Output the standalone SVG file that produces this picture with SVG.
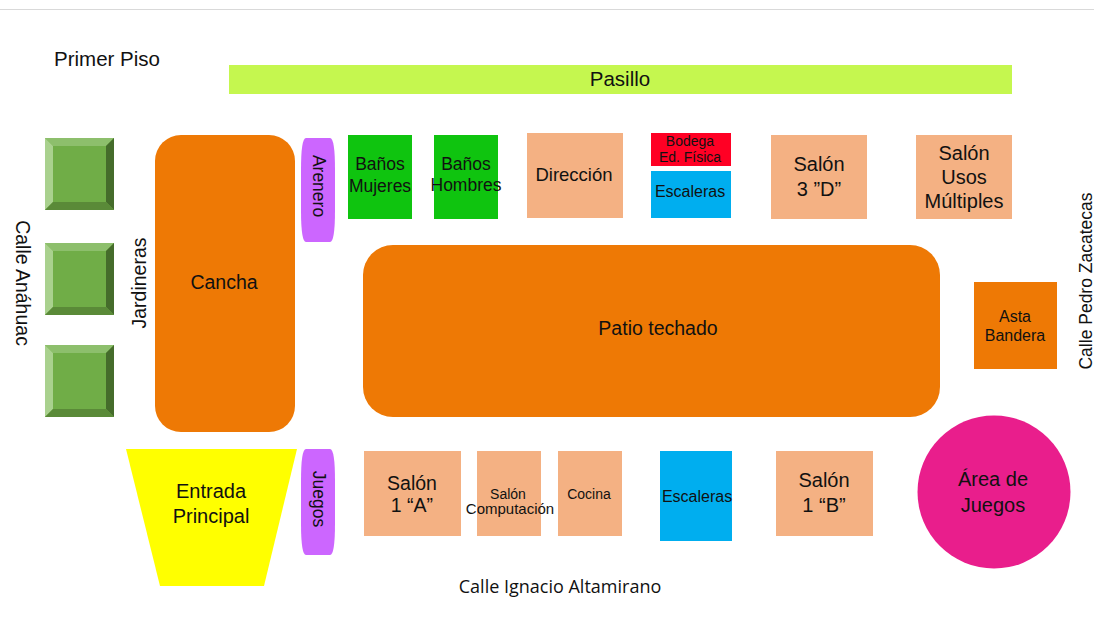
<svg xmlns="http://www.w3.org/2000/svg" width="1094" height="623" viewBox="0 0 1094 623">
<style>
text{font-family:"Liberation Sans",Arial,sans-serif;fill:#111;text-anchor:middle}
.c{font-family:"Open Sans","Liberation Sans",sans-serif}
.o{fill:#ee7905}.s{fill:#f4b183}.g{fill:#0fc40f}.b{fill:#00aeef}.p{fill:#cc66ff}
.t20{font-size:20px}.t205{font-size:20.500px}.t195{font-size:19.500px}.t185{font-size:18.500px}.t18{font-size:18px}.t175{font-size:17.500px}.t16{font-size:16px}.t15{font-size:15px}.t14{font-size:14px}
</style>
<defs>
<g id="planter">
<rect width="69" height="72" fill="#70ad47"/>
<polygon points="0,0 69,0 61,8 8,8" fill="#8dbf6c"/>
<polygon points="0,0 8,8 8,64 0,72" fill="#a9d18e"/>
<polygon points="69,0 69,72 61,64 61,8" fill="#456c2b"/>
<polygon points="0,72 8,64 61,64 69,72" fill="#5a8a38"/>
</g>
</defs>
<rect width="1094" height="623" fill="#fff"/>
<rect x="0" y="9" width="1094" height="1" fill="#d9d9d9"/>
<text x="107" y="66" class="t205">Primer Piso</text>
<g id="pasillo"><rect x="229" y="65" width="783" height="29" fill="#c5f74f"/><text x="620" y="86" class="t205">Pasillo</text></g>
<g id="jardinera1"><use href="#planter" x="45" y="138"/></g>
<g id="jardinera2"><use href="#planter" x="45" y="243"/></g>
<g id="jardinera3"><use href="#planter" x="45" y="345"/></g>
<text transform="translate(16,283) rotate(90)" class="t195">Calle Anáhuac</text>
<text transform="translate(146,283) rotate(-90)" class="t195">Jardineras</text>
<g id="cancha"><rect x="155" y="135" width="140" height="297" rx="26" class="o"/><text x="224" y="289" class="t195">Cancha</text></g>
<g id="arenero"><path d="M306 138H330Q335 138 335 170V210Q335 242 330 242H306Q301 242 301 210V170Q301 138 306 138Z" class="p"/><text transform="translate(313,186) rotate(90)" class="t175">Arenero</text></g>
<g id="banos-mujeres"><rect x="348" y="135" width="64" height="84" class="g"/><text x="380" y="170" class="t175">Baños</text><text x="380" y="192" class="t175">Mujeres</text></g>
<g id="banos-hombres"><rect x="434" y="135" width="64" height="84" class="g"/><text x="466" y="170" class="t175">Baños</text><text x="466" y="191" class="t175">Hombres</text></g>
<g id="direccion"><rect x="527" y="133" width="96" height="85" class="s"/><text x="574" y="181" class="t185">Dirección</text></g>
<g id="bodega"><rect x="651" y="133" width="80" height="33" fill="#ff0024"/><text x="690" y="146" class="t14">Bodega</text><text x="690" y="162" class="t14">Ed. Física</text></g>
<g id="escaleras-norte"><rect x="651" y="171" width="80" height="47" class="b"/><text x="690" y="197" class="t16">Escaleras</text></g>
<g id="salon-3d"><rect x="771" y="135" width="96" height="84" class="s"/><text x="819" y="171" class="t20">Salón</text><text x="819" y="196" class="t20">3 ”D”</text></g>
<g id="salon-usos"><rect x="916" y="135" width="96" height="84" class="s"/><text x="964" y="160" class="t20">Salón</text><text x="964" y="184" class="t20">Usos</text><text x="964" y="208" class="t20">Múltiples</text></g>
<g id="patio"><rect x="363" y="245" width="577" height="172" rx="30" class="o"/><text x="658" y="335" class="t195">Patio techado</text></g>
<g id="asta"><rect x="974" y="282" width="83" height="87" class="o"/><text x="1015" y="322" class="t16">Asta</text><text x="1015" y="341" class="t16">Bandera</text></g>
<text transform="translate(1092,281) rotate(-90)" class="t175">Calle Pedro Zacatecas</text>
<g id="entrada"><polygon points="126,449 297,449 264,586 160,586" fill="#ffff00"/><text x="211" y="498" class="t20">Entrada</text><text x="211" y="523" class="t20">Principal</text></g>
<g id="juegos"><path d="M306 449H330Q335 449 335 481V523Q335 555 330 555H306Q301 555 301 523V481Q301 449 306 449Z" class="p"/><text transform="translate(313,499) rotate(90)" class="t175">Juegos</text></g>
<g id="salon-1a"><rect x="364" y="451" width="97" height="85" class="s"/><text x="412" y="490" class="t195">Salón</text><text x="412" y="512" class="t195">1 “A”</text></g>
<g id="salon-computacion"><rect x="477" y="451" width="64" height="85" class="s"/><text x="508" y="499" class="t14">Salón</text><text x="510" y="514" class="t15">Computación</text></g>
<g id="cocina"><rect x="558" y="451" width="64" height="85" class="s"/><text x="589" y="499" class="t14">Cocina</text></g>
<g id="escaleras-sur"><rect x="660" y="451" width="72" height="90" class="b"/><text x="697" y="502" class="t16">Escaleras</text></g>
<g id="salon-1b"><rect x="776" y="451" width="97" height="85" class="s"/><text x="824" y="487" class="t20">Salón</text><text x="824" y="512" class="t20">1 “B”</text></g>
<g id="area-juegos"><circle cx="994" cy="492" r="76.500" fill="#e91e8c"/><text x="993" y="486" class="t20">Área de</text><text x="993" y="512" class="t20">Juegos</text></g>
<text x="560" y="593" class="c t18">Calle Ignacio Altamirano</text>
</svg>
